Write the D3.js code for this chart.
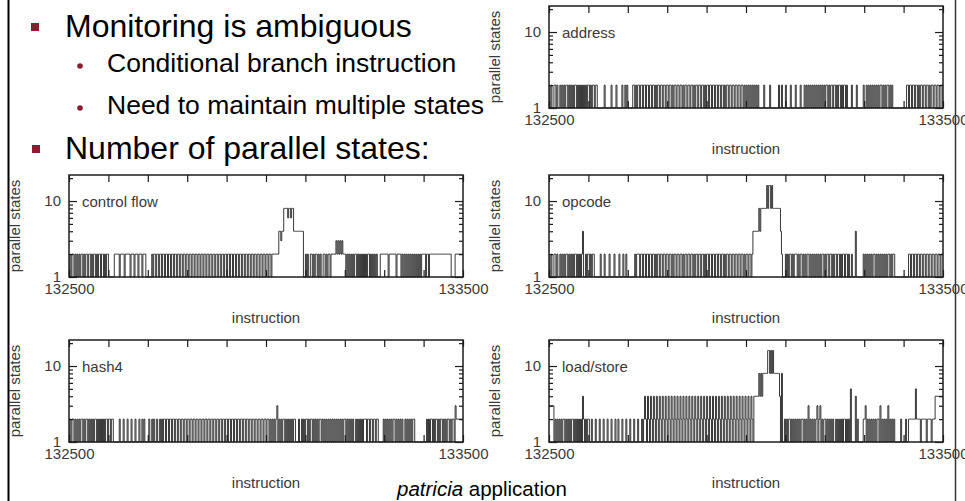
<!DOCTYPE html>
<html>
<head>
<meta charset="utf-8">
<script src="https://cdn.jsdelivr.net/npm/d3@7"></script>
<style>
  body { margin: 0; background: #fff; }
  svg { display: block; font-family: "Liberation Sans", Arial, sans-serif; }
</style>
</head>
<body>
<svg id="slide" width="965" height="501"></svg>
<script>
// axis values shared by the five panels
const xDomain = [132500, 133500];
const xTicks = [132500, 132600, 132700, 132800, 132900, 133000, 133100, 133200, 133300, 133400, 133500];
const xTickLabels = [132500, 133500];
const yDomain = [1, 22];
const yMajor = [1, 10];
const yMinor = [2, 3, 4, 5, 6, 7, 8, 9, 20];

// one character = one step of 2.5 instructions; the character is the number of parallel states
const levelCodes = { "1": 1, "2": 2, "3": 3, "4": 4, "5": 5, "6": 6, "8": 8, "g": 16 };

const address = [
  "2121122121", "1212121221", "2121212212", "1212121212", "2121221221",
  "1111112111", "1112111121", "1111211212", "1111122121", "2212212212",
  "2122122121", "2212212212", "2122121221", "2212212122", "1221221212",
  "2122122121", "2212212212", "2122122121", "2212212212", "2122122121",
  "2121212121", "2121111121", "1111211111", "1112112111", "2111121111",
  "2111121112", "1212121212", "1212121212", "1221212212", "2121221212",
  "2121111211", "1121111112", "1121212121", "2121212212", "1212212121",
  "1111111111", "1112212212", "2122121221", "2212212122", "1221221221"
];

const controlFlow = [
  "1212212121", "2122121221", "2212122121", "2212212122", "1111112222",
  "2122221222", "2212221222", "1222122211", "1111212212", "2122122122",
  "1221221221", "2212212212", "2122122122", "1221221221", "2212212212",
  "2122122122", "1221221221", "2212212212", "2122122122", "1221221221",
  "2212212222", "2224434488", "8868868844", "4444444411", "2121122121",
  "2212121122", "1212212222", "2323232322", "2121212121", "2212121212",
  "1212212121", "2121112222", "2222122222", "2212222121", "2121212121",
  "2121212122", "2212212222", "2222222222", "2222222211", "1122222222"
];

const opcode = [
  "2121122121", "1212121221", "2121212212", "1212411212", "2121221111",
  "1121112111", "1211112111", "1211121121", "1111111212", "2212212212",
  "2122122121", "2212212212", "2122121221", "2212212122", "1221221212",
  "2122122121", "2212212212", "2122122121", "2212212212", "2122122121",
  "2212212444", "4448488888", "8g8gg8g888", "8888842111", "2121221212",
  "2212122121", "2122121212", "1212121221", "2122122121", "2212212122",
  "1221211211", "1411111112", "1212121212", "2121212121", "2121221212",
  "2111111111", "1111122122", "1221221221", "2212212212", "2122122122"
];

const hash4 = [
  "1212212121", "2122121221", "2121212212", "1212121221", "2212211111",
  "1211121112", "1112111211", "1211212111", "1211212112", "1121212212",
  "2122122122", "1221221221", "2212212212", "2122122122", "1221221221",
  "2212212212", "2122122122", "1221221221", "2212212212", "2122122122",
  "1221212121", "2312121221", "2121212122", "1112112121", "2212122121",
  "2121221212", "1212121212", "1212121212", "2121212121", "1212121212",
  "2212212212", "2122111112", "1212121212", "2121212121", "1212121212",
  "2111111111", "1112121221", "2122121221", "2121221212", "2132222222"
];

const loadStore = [
  "3333312121", "2121221212", "1212212121", "2121421212", "2112111211",
  "1211121112", "1112111211", "2111211121", "1121112111", "2111212421",
  "4214214214", "2142142142", "1421421421", "4214214214", "2142142142",
  "1421421421", "4214214214", "2142142142", "1421421421", "4214214214",
  "2142142144", "4448484888", "88gg8g8g88", "8888418112", "1212212121",
  "2121212212", "1213121212", "1231231212", "2121212121", "1212121212",
  "2121215111", "1412111112", "2312121212", "1212213121", "2121312121",
  "2111111211", "1121122222", "2252222122", "2221222212", "2244444444"
];

const panels = [
  { label: "address", series: address, left: 549, top: 6 },
  { label: "control flow", series: controlFlow, left: 69, top: 175 },
  { label: "opcode", series: opcode, left: 549, top: 175 },
  { label: "hash4", series: hash4, left: 69, top: 340 },
  { label: "load/store", series: loadStore, left: 549, top: 340 }
];

const pw = 394;
const ph = 102;
const ink = "#1c1c1c";
const grey = "#3a3a3a";
const red = "#8c1d2e";

const svg = d3.select("#slide");

// slide border lines
svg.append("line").attr("x1", 8.5).attr("x2", 8.5).attr("y1", 0).attr("y2", 501)
  .attr("stroke", "#000").attr("stroke-width", 2);
svg.append("line").attr("x1", 955.5).attr("x2", 955.5).attr("y1", 0).attr("y2", 501)
  .attr("stroke", "#333").attr("stroke-width", 1.5);

// bullet text
function square(x, y) {
  svg.append("rect").attr("x", x).attr("y", y).attr("width", 8).attr("height", 8).attr("fill", red);
}
function dot(x, y) {
  svg.append("circle").attr("cx", x).attr("cy", y).attr("r", 2.8).attr("fill", red);
}
square(31, 23);
svg.append("text").attr("x", 65).attr("y", 37).attr("font-size", 32).text("Monitoring is ambiguous");
dot(80, 66);
svg.append("text").attr("x", 107).attr("y", 72).attr("font-size", 26.5).text("Conditional branch instruction");
dot(80, 108);
svg.append("text").attr("x", 107).attr("y", 114).attr("font-size", 26.5).text("Need to maintain multiple states");
square(32, 145);
svg.append("text").attr("x", 65).attr("y", 159).attr("font-size", 32).text("Number of parallel states:");

const caption = svg.append("text").attr("x", 397).attr("y", 496).attr("font-size", 20.5);
caption.append("tspan").attr("font-style", "italic").text("patricia");
caption.append("tspan").text(" application");

function tidy(sel) {
  sel.attr("font-size", 15).attr("font-family", null).attr("color", ink);
  sel.select(".domain").remove();
  sel.selectAll("line").attr("stroke-width", 1.2);
  sel.selectAll("text").attr("fill", grey);
}

function drawPanel(p) {
  const g = svg.append("g").attr("transform", `translate(${p.left},${p.top})`);
  const x = d3.scaleLinear().domain(xDomain).range([0, pw]);
  const y = d3.scaleLog().domain(yDomain).range([ph, 0]);

  const codes = p.series.join("");
  const step = (xDomain[1] - xDomain[0]) / codes.length;
  const pts = Array.from(codes, (c, i) => [xDomain[0] + i * step, levelCodes[c]]);
  pts.push([xDomain[1], pts[pts.length - 1][1]]);

  const line = d3.line()
    .x(d => x(d[0]))
    .y(d => y(d[1]))
    .curve(d3.curveStepAfter);

  g.append("path")
    .attr("d", line(pts))
    .attr("fill", "none")
    .attr("stroke", "#222")
    .attr("stroke-width", 0.9);

  // inward ticks on all four sides
  g.append("g").attr("transform", `translate(0,${ph})`)
    .call(d3.axisBottom(x).tickValues(xTicks).tickSize(-7).tickFormat("")).call(tidy);
  g.append("g")
    .call(d3.axisTop(x).tickValues(xTicks).tickSize(-7).tickFormat("")).call(tidy);
  g.append("g")
    .call(d3.axisLeft(y).tickValues(yMajor).tickSize(-8).tickFormat("")).call(tidy);
  g.append("g")
    .call(d3.axisLeft(y).tickValues(yMinor).tickSize(-4).tickFormat("")).call(tidy);
  g.append("g").attr("transform", `translate(${pw},0)`)
    .call(d3.axisRight(y).tickValues(yMajor).tickSize(-8).tickFormat("")).call(tidy);
  g.append("g").attr("transform", `translate(${pw},0)`)
    .call(d3.axisRight(y).tickValues(yMinor).tickSize(-4).tickFormat("")).call(tidy);

  // tick labels
  g.append("g").attr("transform", `translate(0,${ph})`)
    .call(d3.axisBottom(x).tickValues(xTickLabels).tickSize(0).tickPadding(6).tickFormat(d3.format("d")))
    .call(tidy);
  g.append("g")
    .call(d3.axisLeft(y).tickValues(yMajor).tickSize(0).tickPadding(8).tickFormat(d3.format("d")))
    .call(tidy);

  g.append("rect")
    .attr("width", pw).attr("height", ph)
    .attr("fill", "none").attr("stroke", ink).attr("stroke-width", 1.5);

  g.append("text")
    .attr("x", 13).attr("y", y(10) + 5.5)
    .attr("font-size", 15).attr("fill", grey)
    .text(p.label);

  g.append("text")
    .attr("transform", `translate(-49,${ph / 2}) rotate(-90)`)
    .attr("text-anchor", "middle")
    .attr("font-size", 15).attr("fill", grey)
    .text("parallel states");

  g.append("text")
    .attr("x", pw / 2).attr("y", ph + 46)
    .attr("text-anchor", "middle")
    .attr("font-size", 15).attr("fill", grey)
    .text("instruction");
}

panels.forEach(drawPanel);
</script>
</body>
</html>
